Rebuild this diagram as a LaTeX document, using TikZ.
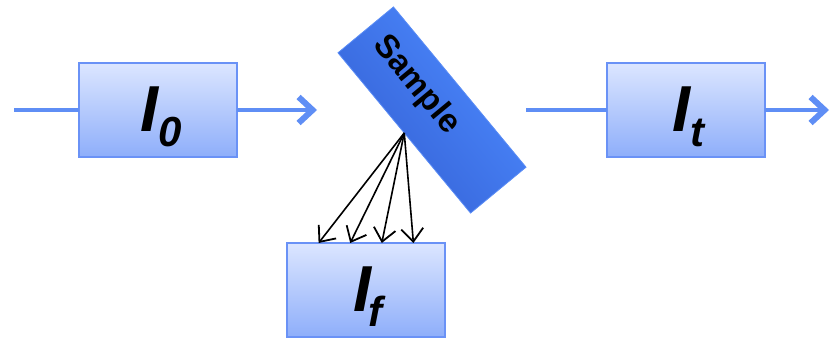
\documentclass[tikz,border=0pt]{standalone}
\usepackage{fontspec}
\setmainfont{Liberation Sans}
\usetikzlibrary{arrows.meta,calc}

\definecolor{boxtop}{HTML}{DCE6FF}
\definecolor{boxbot}{HTML}{8EAEFA}
\definecolor{boxedge}{HTML}{6A92F6}
\definecolor{beam}{HTML}{5F8EF5}
\definecolor{samplelight}{HTML}{4C8AFF}
\definecolor{sampledark}{HTML}{3460D4}
\definecolor{sampleedge}{HTML}{5A8CF5}

\begin{document}
\begin{tikzpicture}[x=1pt,y=-1pt,
  detector/.style={draw=boxedge, line width=1.8pt, top color=boxtop,
    bottom color=boxbot, minimum width=158pt, minimum height=94pt,
    inner sep=0pt, outer sep=0pt},
  slab/.style={draw=sampleedge, line width=0.8pt, top color=samplelight,
    bottom color=sampledark, shading angle=-50.4, minimum width=208pt,
    minimum height=72pt, inner sep=0pt, outer sep=0pt, rotate=-50.4},
  biglabel/.style={anchor=base west, inner sep=0pt,
    font=\fontsize{65}{65}\selectfont\bfseries\itshape},
  beamline/.style={draw=beam, line width=4pt},
  beamarrow/.style={beamline,
    -{Straight Barb[length=14pt,width=26pt,line width=6pt 0 0]}},
  fluor/.style={draw=black, line width=1.6pt,
    -{Straight Barb[length=13pt,width=22pt,line width=1.8pt 0 0]}}
]
\useasboundingbox (0,0) rectangle (831,339);

% detectors and sample
\node[detector] (I0) at (158,110) {};
\node[detector] (It) at (686,110) {};
\node[detector] (If) at (366,290) {};
\node[slab] (sample) at (432,110) {};
\node[rotate=-50.4, inner sep=0pt, font=\fontsize{33}{33}\selectfont\bfseries]
  (samplelabel) at (416,85) {Sample};

% detector labels
\newcommand\subfont{\fontsize{42}{42}\selectfont}
\node[biglabel] (I0label) at (140,132) {I\raisebox{-15pt}{\subfont 0}};
\node[biglabel] (Itlabel) at (672,132) {I\raisebox{-15pt}{\subfont t}};
\node[biglabel] (Iflabel) at (353,312) {I\kern-3pt\raisebox{-15pt}{\subfont f}};

% beam path
\coordinate (src) at (14,110);
\coordinate (toSample) at (317,110);
\coordinate (fromSample) at (526,110);
\coordinate (out) at (829,110);
\draw[beamline] (src) -- (I0.west);
\draw[beamarrow] (I0.east) -- (toSample);
\draw[beamline] (fromSample) -- (It.west);
\draw[beamarrow] (It.east) -- (out);

% fluorescence fan
\foreach \f in {0.2,0.4,0.6,0.8}
  \draw[fluor] (sample.south) -- ($(If.north west)!\f!(If.north east)$);
\end{tikzpicture}
\end{document}
